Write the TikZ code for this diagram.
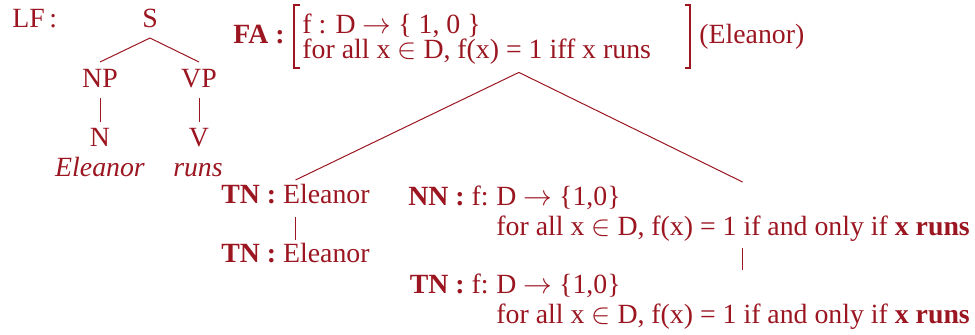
\documentclass[tikz,border=0pt]{standalone}
\usepackage{fontspec}
\setmainfont{Liberation Serif}
\usetikzlibrary{fit,calc}
\definecolor{lfred}{RGB}{155,22,32}
\begin{document}
\begin{tikzpicture}[x=0.5pt,y=-0.5pt,
  every node/.style={inner sep=0pt, text=lfred, font=\fontsize{13.9}{15}\selectfont},
  upper/.style={text depth=0pt},
  conn/.style={draw=lfred, line width=0.5pt},
  brk/.style={draw=lfred, line width=1pt}]
\useasboundingbox (0,0) rectangle (975,334);
% left tree
\node[anchor=base west] (lf) at (12,27) {LF\,:};
\node[anchor=base] (s) at (150,27) {S};
\node[anchor=base] (np) at (100,87) {NP};
\node[anchor=base] (vp) at (199,87) {VP};
\node[anchor=base] (n) at (100,146) {N};
\node[anchor=base] (v) at (199,146) {V};
\node[anchor=base] (el) at (100,176) {\itshape Eleanor};
\node[anchor=base] (ru) at (198,176) {\itshape runs};
\draw[conn] ([yshift=-5.5pt]s.base) -- ([yshift=12.5pt]np.base);
\draw[conn] ([yshift=-5.5pt]s.base) -- ([yshift=12.5pt]vp.base);
\draw[conn] ([yshift=-5.5pt]np.base) -- ([yshift=12pt]n.base);
\draw[conn] ([yshift=-5.5pt]vp.base) -- ([yshift=12pt]v.base);
% FA block
\node[anchor=base west] (fa) at (233,43) {\textbf{FA :}};
\node[anchor=base west, upper] (fa1) at (302,33) {f : D $\rightarrow$ \{ 1, 0 \}};
\node[anchor=base west, text height=9pt] (fa2) at (302,58) {for all x $\in$ D, f(x) = 1 iff x runs};
\node[anchor=base west] (fae) at (699,43) {(Eleanor)};
\draw[brk] (300,5) -| (294,68) -- (300,68);
\draw[brk] (685,5) -| (690,68) coordinate (rb) -- (685,68);
\node[fit=(fa)(fae)(rb)] (fagrp) {};
% TN Eleanor
\node[anchor=base west] (tn1) at (221,203) {\textbf{TN :} Eleanor};
\node[anchor=base west] (tn1b) at (221,262) {\textbf{TN :} Eleanor};
% NN block
\node[anchor=base west, upper] (nnd) at (496,205) {D $\rightarrow$ \{1,0\}};
\node[anchor=base east, upper] (nnh) at ($(nnd.base west)+(-7,0)$) {\textbf{NN :} f:};
\node[anchor=base west] (nn2) at (496,235) {for all x $\in$ D, f(x) = 1 if and only if \textbf{x runs}};
% TN block
\node[anchor=base west, upper] (tnd) at (496,293) {D $\rightarrow$ \{1,0\}};
\node[anchor=base east, upper] (tnh) at ($(tnd.base west)+(-7,0)$) {\textbf{TN :} f:};
\node[anchor=base west] (tn2) at (496,323) {for all x $\in$ D, f(x) = 1 if and only if \textbf{x runs}};
% connectors
\draw[conn] ([yshift=-2pt]fagrp.south) -- ([yshift=11.5pt]tn1.base);
\draw[conn] ([yshift=-2pt]fagrp.south) -- ($(nn2.base)+(9.5,-53)$);
\draw[conn] ([yshift=-7pt]tn1.base) -- ([yshift=11pt]tn1b.base);
\draw[conn] ($(nn2.base)+(9.5,13)$) -- ($(tn2.base)+(9.5,-53)$);
\end{tikzpicture}
\end{document}
